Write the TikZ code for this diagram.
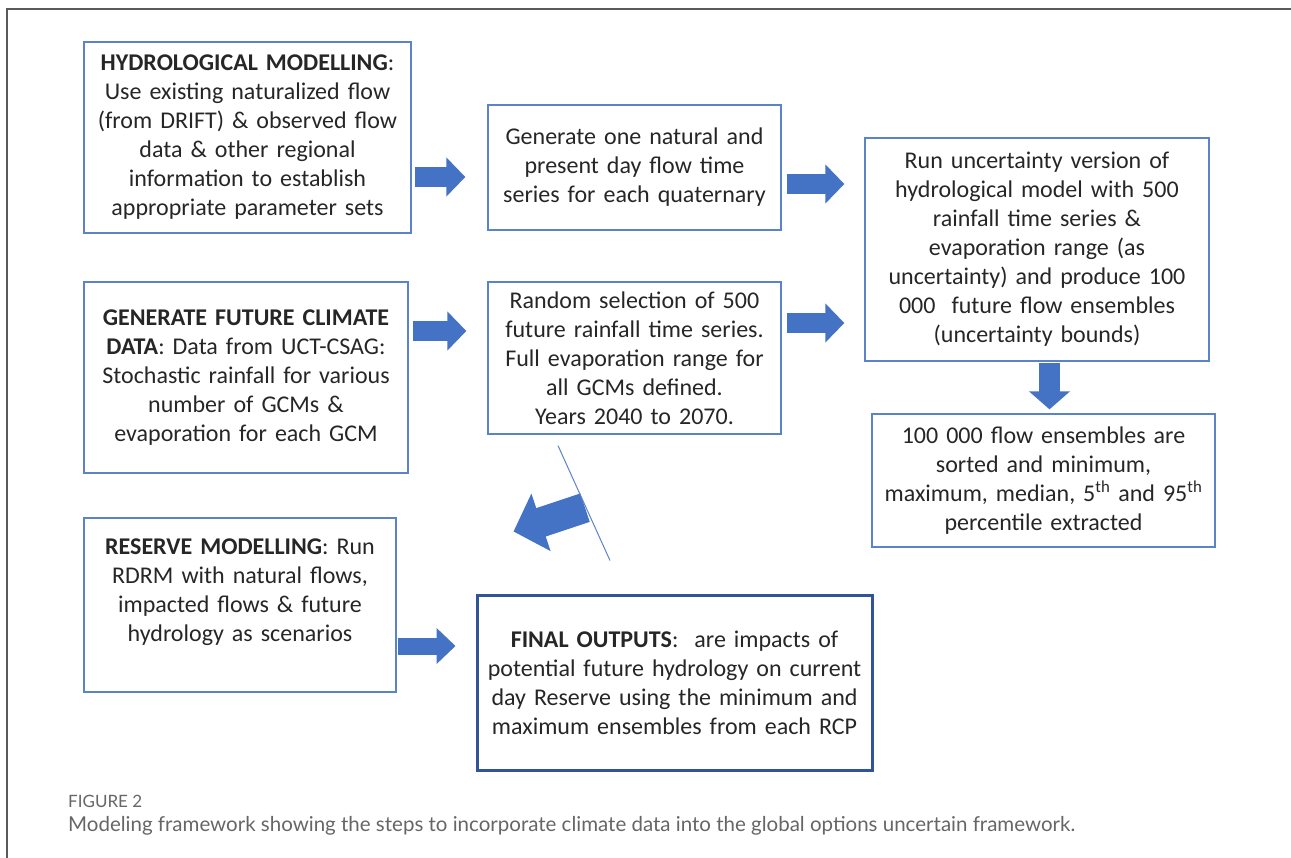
\documentclass[tikz,border=0pt]{standalone}
\usepackage{fontspec}
\setmainfont{Carlito}
\newfontfamily\capfont{Lato}
\usetikzlibrary{arrows.meta,positioning}
\definecolor{boxblue}{HTML}{5B83C7}
\definecolor{arrowblue}{HTML}{4472C4}
\definecolor{finalblue}{HTML}{2F5597}
\definecolor{framegray}{HTML}{5A5A5A}
\definecolor{textgray}{HTML}{262626}
\definecolor{capgray}{HTML}{666666}
\newcommand{\boxfont}{\fontsize{24}{29}\selectfont}

\begin{document}
\begin{tikzpicture}[x=1pt, y=-1pt,
   box/.style={draw=boxblue, line width=1.3pt, align=center, inner sep=0pt, font=\boxfont, text=textgray},
   finalbox/.style={box, draw=finalblue, line width=3pt},
   blockarr/.style={arrowblue, line width=20pt, -{Triangle[length=19pt, width=38pt]}},
   bigarr/.style={arrowblue, line width=30pt, -{Triangle[length=29pt, width=59pt]}},
   caplabel/.style={anchor=west, inner sep=0pt, text=capgray, font=\capfont\fontsize{17}{20}\selectfont},
   captext/.style={anchor=west, inner sep=0pt, text=capgray, font=\capfont\fontsize{20.5}{24}\selectfont}]
   \useasboundingbox (0,0) rectangle (1291,858);
   \draw[framegray, line width=2pt] (7,858) -- (7,9) -- (1291,9);
   % boxes
   \node[box, text width=327pt, minimum height=191pt] (hydro) at (247.5,137.5) {\textbf{HYDROLOGICAL MODELLING}:\\Use existing naturalized flow\\(from DRIFT) \& observed flow\\data \& other regional\\information to establish\\appropriate parameter sets};
   \node[box, text width=293pt, minimum height=125pt] (natflow) at (634.5,167.5) {Generate one natural and\\present day flow time\\series for each quaternary};
   \node[box, text width=344pt, minimum height=223pt] (uncert) at (1037,249.5) {Run uncertainty version of\\hydrological model with 500\\rainfall time series \&\\evaporation range (as\\uncertainty) and produce 100\\000\ \ future flow ensembles\\(uncertainty bounds)};
   \node[box, text width=343pt, minimum height=133pt] (sorted) at (1043.5,480.5) {100 000 flow ensembles are\\sorted and minimum,\\maximum, median, 5\textsuperscript{th} and 95\textsuperscript{th}\\percentile extracted};
   \node[box, text width=324pt, minimum height=191pt] (climate) at (246,377.5) {\textbf{GENERATE FUTURE CLIMATE}\\\textbf{DATA}: Data from UCT-CSAG:\\Stochastic rainfall for various\\number of GCMs \&\\evaporation for each GCM};
   \node[box, text width=293pt, minimum height=152pt] (rainsel) at (634.5,358) {Random selection of 500\\future rainfall time series.\\Full evaporation range for\\all GCMs defined.\\Years 2040 to 2070.};
   \node[box, text width=312pt, minimum height=174pt] (reserve) at (240,605) {\textbf{RESERVE MODELLING}: Run\\RDRM with natural flows,\\impacted flows \& future\\hydrology as scenarios\\\rule{0pt}{0pt}};
   \node[finalbox, text width=395pt, minimum height=175pt] (final) at (674.5,682.5) {\textbf{FINAL OUTPUTS}:\ \ are impacts of\\potential future hydrology on current\\day Reserve using the minimum and\\maximum ensembles from each RCP};
   % block arrows
   \draw[blockarr] ([xshift=3pt, yshift=-39.5pt]hydro.east) -- ([xshift=-22pt, yshift=-9.5pt]natflow.west);
   \draw[blockarr] ([xshift=5pt, yshift=-16.5pt]natflow.east) -- ([xshift=-20pt, yshift=65.5pt]uncert.west);
   \draw[blockarr] ([xshift=4pt, yshift=46.5pt]climate.east) -- ([xshift=-21pt, yshift=27pt]rainsel.west);
   \draw[blockarr] ([xshift=5pt, yshift=35pt]rainsel.east) -- ([xshift=-20pt, yshift=-73.5pt]uncert.west);
   \draw[blockarr, line width=21pt, -{Triangle[length=18pt, width=40pt]}] ([xshift=12.5pt, yshift=-1pt]uncert.south) -- ([xshift=6pt, yshift=4pt]sorted.north);
   \draw[blockarr, line width=17pt, -{Triangle[length=19pt, width=35pt]}] ([xshift=1pt, yshift=-41pt]reserve.east) -- ([xshift=-20pt, yshift=36.5pt]final.west);
   \draw[bigarr] ([xshift=-49.5pt, yshift=-73pt]rainsel.south) -- ([xshift=38pt, yshift=62pt]final.north west);
   \draw[boxblue, line width=1pt] ([xshift=-76.5pt, yshift=-11pt]rainsel.south) -- ([xshift=-64.5pt, yshift=33pt]final.north);
   % caption
   \node[caplabel] (figlabel) at (68,801) {FIGURE 2};
   \node[captext] (caption) at (68,826) {Modeling framework showing the steps to incorporate climate data into the global options uncertain framework.};
\end{tikzpicture}
\end{document}
